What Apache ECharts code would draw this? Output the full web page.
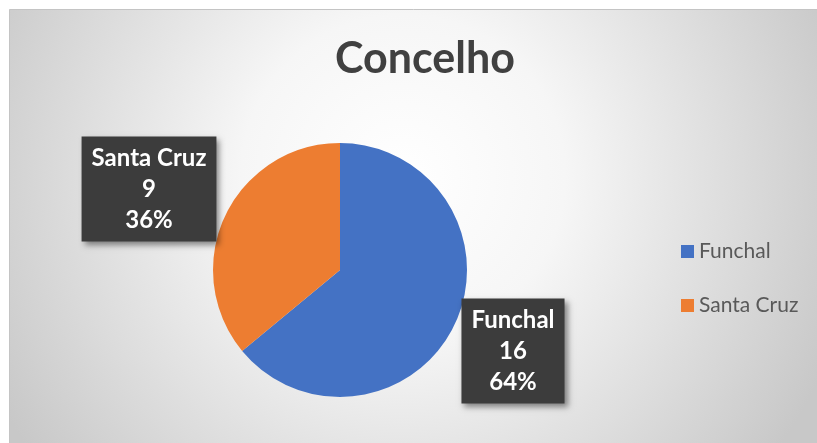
<!DOCTYPE html>
<html><head><meta charset="utf-8">
<script src="https://cdn.jsdelivr.net/npm/echarts@6/dist/echarts.min.js"></script>
<style>html,body{margin:0;padding:0;background:#fff;}#c{width:817px;height:443px;}</style>
</head><body><div id="c"></div>
<script>
var categories = ['Funchal', 'Santa Cruz'];
var values = [16, 9];
var colors = ['#4472C4', '#ED7D31'];
var titleText = 'Concelho';

var chart = echarts.init(document.getElementById('c'));
var labelPos = [
  {x: 513, y: 351},
  {x: 149, y: 189}
];
chart.setOption({
  animation: false,
  graphic: [{
    type: 'rect', z: -10, silent: true,
    shape: {x: 9.5, y: 9.5, width: 820, height: 440},
    style: {
      fill: {type: 'radial', x: 0.48, y: 0.38, r: 1.05,
        colorStops: [{offset: 0, color: '#ffffff'}, {offset: 0.35, color: '#f6f6f6'}, {offset: 1, color: '#c8c8c8'}]},
      stroke: '#c4c4c4', lineWidth: 1
    }
  }],
  title: {
    text: titleText, left: 420, top: 33, textAlign: 'center',
    textStyle: {fontFamily: 'Lato', fontWeight: 'bold', fontSize: 43, color: '#404040'}
  },
  legend: {
    orient: 'vertical', left: 681, top: 241, padding: 0,
    itemWidth: 13, itemHeight: 13, itemGap: 33, icon: 'rect',
    textStyle: {fontFamily: 'Lato', fontSize: 21, color: '#595959', padding: [0, 0, 0, 0]},
    data: categories
  },
  series: [{
    type: 'pie', center: [340, 270], radius: 127, startAngle: 90, clockwise: true,
    data: categories.map(function (c, i) { return {name: c, value: values[i], itemStyle: {color: colors[i]}}; }),
    itemStyle: {borderWidth: 0},
    labelLine: {show: false},
    label: {
      show: true, position: 'outside',
      formatter: function (p) { return p.name + '\n' + p.value + '\n' + Math.round(p.percent) + '%'; },
      fontFamily: 'Lato', fontWeight: 'bold', fontSize: 24, color: '#ffffff', lineHeight: 31,
      backgroundColor: '#3c3c3c', padding: [6, 10, 6, 10],
      shadowColor: 'rgba(0,0,0,0.45)', shadowBlur: 6, shadowOffsetX: 3, shadowOffsetY: 3
    },
    labelLayout: function (p) {
      var lp = labelPos[p.dataIndex];
      return {x: lp.x, y: lp.y, align: 'center', verticalAlign: 'middle'};
    }
  }]
});
</script></body></html>
